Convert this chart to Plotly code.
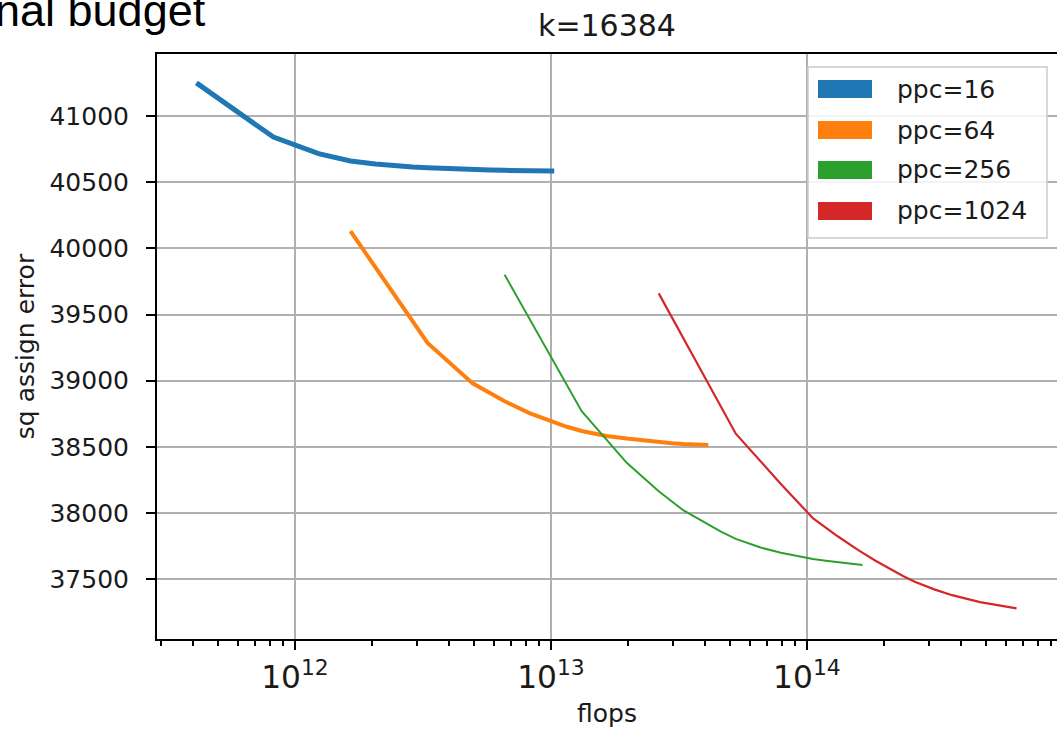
import plotly.graph_objects as go

# ---- data ----
series_names = ["ppc=16", "ppc=64", "ppc=256", "ppc=1024"]
colors = ["#1f77b4", "#ff7f0e", "#2ca02c", "#d62728"]
widths = [5, 4, 2, 2.2]

flops_16 = [4.12e11, 8.24e11, 1.236e12, 1.648e12, 2.06e12, 2.472e12, 2.884e12, 3.296e12, 3.708e12,
            4.12e12, 4.944e12, 5.768e12, 6.592e12, 7.416e12, 8.24e12, 9.064e12, 1.03e13]
err_16 = [41250, 40840, 40715, 40660, 40637, 40622, 40614, 40608, 40603,
          40600, 40594, 40591, 40589, 40588, 40587, 40586, 40585]

flops_64 = [1.648e12, 3.296e12, 4.944e12, 6.592e12, 8.24e12, 9.888e12, 1.1536e13, 1.3184e13, 1.4832e13,
            1.648e13, 1.9776e13, 2.3072e13, 2.6368e13, 2.9664e13, 3.296e13, 3.6256e13, 4.12e13]
err_64 = [40130, 39285, 38980, 38845, 38755, 38695, 38652, 38620, 38597,
          38583, 38563, 38548, 38535, 38528, 38522, 38518, 38515]

flops_256 = [6.592e12, 1.3184e13, 1.9776e13, 2.6368e13, 3.296e13, 3.9552e13, 4.6144e13, 5.2736e13, 5.9328e13,
             6.592e13, 7.9104e13, 9.2288e13, 1.05472e14, 1.18656e14, 1.3184e14, 1.45024e14, 1.648e14]
err_256 = [39800, 38770, 38380, 38165, 38020, 37930, 37860, 37805, 37768,
           37740, 37700, 37675, 37653, 37640, 37630, 37620, 37608]

flops_1024 = [2.6368e13, 5.2736e13, 7.9104e13, 1.05472e14, 1.3184e14, 1.58208e14, 1.84576e14, 2.10944e14, 2.37312e14,
              2.6368e14, 3.16416e14, 3.69152e14, 4.21888e14, 4.74624e14, 5.2736e14, 5.80096e14, 6.592e14]
err_1024 = [39660, 38600, 38220, 37962, 37825, 37722, 37642, 37578, 37525,
            37482, 37422, 37380, 37350, 37328, 37312, 37298, 37280]

xs = [flops_16, flops_64, flops_256, flops_1024]
ys = [err_16, err_64, err_256, err_1024]

title_text = "k=16384"
x_label = "flops"
y_label = "sq assign error"
slide_text = "nal budget"

# ---- layout geometry ----
W, H = 1057, 730
L, R, T, B = 157, 0, 54, 91
PW, PH = W - L - R, H - T - B

def px_x(p):
    return (p - L) / PW

def px_y(p):
    return 1 - (p - T) / PH

FONT = "DejaVu Sans"
TXT = "#1a1a1a"

fig = go.Figure()
for x, y, name, c, w in zip(xs, ys, series_names, colors, widths):
    fig.add_trace(go.Scatter(x=x, y=y, mode="lines", name=name,
                             line=dict(color=c, width=w), showlegend=False))

axis_common = dict(
    showline=True, linecolor="black", linewidth=2,
    ticks="outside", tickcolor="black", tickwidth=2, ticklen=9,
    showgrid=True, gridcolor="#b0b0b0", gridwidth=1.6,
    zeroline=False,
    tickfont=dict(family=FONT, size=25, color=TXT),
)

fig.update_xaxes(
    type="log", range=[11.461, 14.977], dtick=1, exponentformat="power",
    mirror=True,
    minor=dict(ticks="outside", ticklen=5, tickwidth=1.5, tickcolor="black",
               dtick="D1", showgrid=False),
    title=dict(text=x_label, font=dict(family=FONT, size=25, color=TXT), standoff=10),
    ticklabelstandoff=2,
    **axis_common,
)
fig.update_yaxes(
    range=[37049, 41468], dtick=500, tick0=37500, tickformat="d",
    mirror=False,
    title=dict(text=y_label, font=dict(family=FONT, size=25, color=TXT), standoff=8),
    ticklabelstandoff=12,
    **axis_common,
)

# ---- manual legend (matplotlib-style large patches) ----
shapes = []
annotations = []
bx0, bx1, by0, by1 = 808, 1047, 67, 238
shapes.append(dict(type="rect", xref="paper", yref="paper",
                   x0=px_x(bx0), x1=px_x(bx1), y0=px_y(by1), y1=px_y(by0),
                   line=dict(color="#cccccc", width=1.5),
                   fillcolor="rgba(255,255,255,0.85)", layer="above"))
row_y = [89, 130, 170, 211]
for name, c, ry in zip(series_names, colors, row_y):
    shapes.append(dict(type="rect", xref="paper", yref="paper",
                       x0=px_x(818), x1=px_x(872), y0=px_y(ry + 9), y1=px_y(ry - 9),
                       line=dict(width=0), fillcolor=c, layer="above"))
    annotations.append(dict(text=name, xref="paper", yref="paper",
                            x=px_x(895), y=px_y(ry), xanchor="left", yanchor="middle",
                            showarrow=False,
                            font=dict(family=FONT, size=25, color=TXT)))

annotations.append(dict(text=slide_text, xref="paper", yref="paper",
                        x=px_x(208), y=px_y(10), xanchor="right", yanchor="middle",
                        showarrow=False,
                        font=dict(family="Liberation Sans", size=45, color="black")))

fig.update_layout(
    width=W, height=H,
    margin=dict(l=L, r=R, t=T, b=B, autoexpand=False),
    paper_bgcolor="white", plot_bgcolor="white",
    title=dict(text=title_text, x=px_x(607), xref="paper", xanchor="center",
               y=1 - 25 / H, yref="container", yanchor="middle",
               font=dict(family=FONT, size=30, color=TXT)),
    shapes=shapes, annotations=annotations,
    showlegend=False,
)

fig.write_html("out.html")
